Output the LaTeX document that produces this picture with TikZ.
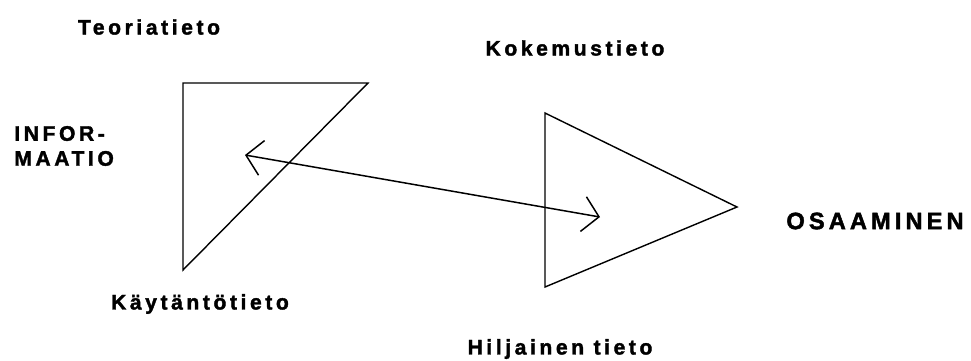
\documentclass[tikz,border=0pt]{standalone}
\usepackage{fontspec}
\usepackage{tikz}
\usetikzlibrary{positioning,arrows.meta,calc}
\newfontfamily\paintfont{Liberation Sans Bold}[LetterSpace=17,FakeBold=1.8]
\definecolor{inkblack}{HTML}{000000}

\begin{document}
\begin{tikzpicture}[x=0.02cm, y=-0.02cm,
    lbl/.style={font=\paintfont\fontsize{12}{14.2}\selectfont, inner sep=0pt},
    edge/.style={inkblack, line width=0.8pt},
    twoway/.style={inkblack, line width=0.85pt, {Straight Barb[length=9pt,width=20pt]}-{Straight Barb[length=9pt,width=20pt]}}]
    \useasboundingbox (0,0) rectangle (971,360);
    % left triangle
    \coordinate (lt) at (183,83);
    \coordinate (rt) at (368,83);
    \coordinate (lb) at (183,270);
    \draw[edge] (lt) -- (rt) -- (lb) -- cycle;
    % right triangle
    \coordinate (top) at (545,113);
    \coordinate (tip) at (737,207);
    \coordinate (bot) at (545,287);
    \draw[edge] (top) -- (tip) -- (bot) -- cycle;
    % labels
    \node[lbl] (teoria) at (149,27) {Teoriatieto};
    \node[lbl] (kokemus) at (575,48) {Kokemustieto};
    \node[lbl, anchor=west, align=left] (info) at (14,146) {INFOR-\\MAATIO};
    \node[lbl] (kaytanto) at (200,304) {Käytäntötieto};
    \node[lbl] (hiljainen) at (560,349) {Hiljainen tieto};
    \node[lbl, font=\paintfont\fontsize{13.5}{16}\selectfont] (osaaminen) at (875,221) {OSAAMINEN};
    % arrow between the two kinds of knowledge
    \coordinate (from) at (245,155);
    \coordinate (to) at (600,217);
    \draw[twoway] (from) -- (to);
  \end{tikzpicture}
\end{document}
